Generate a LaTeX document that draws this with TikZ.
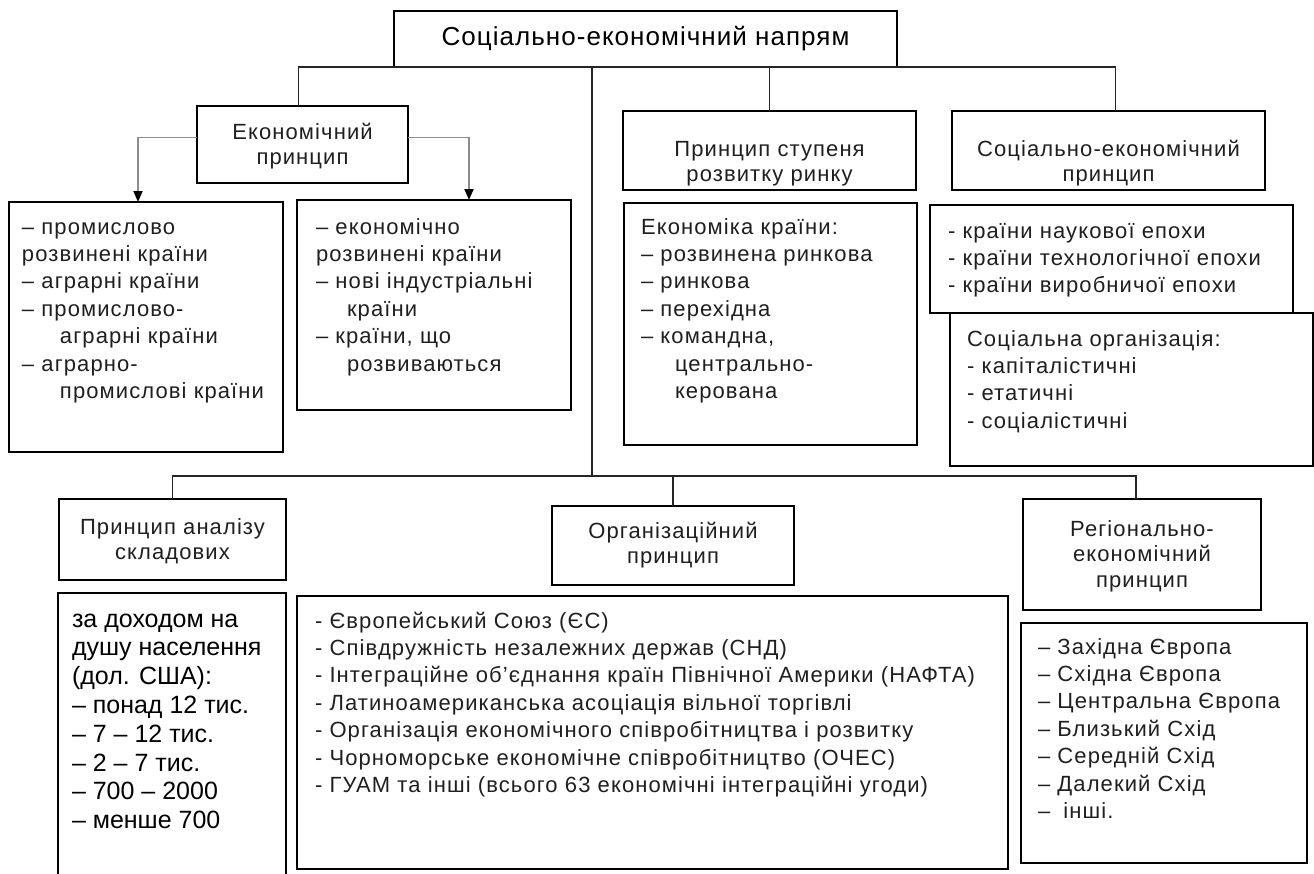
\documentclass[tikz,border=0pt]{standalone}
\usepackage{fontspec}
\setmainfont{Liberation Sans}
\newfontfamily\lsans[LetterSpace=5]{Liberation Sans}
\newfontfamily\tsans[LetterSpace=4]{Liberation Sans}
\usetikzlibrary{arrows.meta}
\newcommand\bodyf{\lsans\fontsize{22}{27.4}\selectfont}
\newcommand\headf{\lsans\fontsize{22}{25.5}\selectfont}
\newcommand\titlef{\tsans\fontsize{26}{30}\selectfont}
\newcommand\incf{\rmfamily\fontsize{25}{28.8}\selectfont}
% left-aligned cell: width, height, left pad, first baseline, font, text
\newcommand\cellL[6]{\parbox[b][#2pt][t]{#1pt}{#5\raggedright\leftskip=#3pt\rule{0pt}{#4pt}#6\par}}
% centred cell: width, height, first baseline, font, text
\newcommand\cellC[5]{\parbox[b][#2pt][t]{#1pt}{#4\centering\rule{0pt}{#3pt}#5\par}}
\begin{document}
\begin{tikzpicture}[x=1pt,y=-1pt,
  cbox/.style={draw=black, line width=1.9pt, inner sep=0pt, outer sep=0pt, anchor=north west, text=black!88},
  conn/.style={draw=black!85, line width=1.8pt},
  arrline/.style={draw=black!45, line width=1.8pt, -{Triangle[length=11pt,width=9pt,color=black]}}]
\path[use as bounding box, fill=white] (0,0) rectangle (1314,873);

% headers
\node[cbox,text=black] (top) at (394,11) {\cellC{503}{56}{34}{\titlef}{Соціально-економічний напрям}};
\node[cbox] (econ) at (197,106) {\cellC{211}{77}{33}{\headf}{Економічний\\принцип}};
\node[cbox] (mh) at (623,111) {\cellC{293}{79}{45}{\headf}{Принцип ступеня\\розвитку ринку}};
\node[cbox] (soch) at (952,111) {\cellC{313}{79}{45}{\headf}{Соціально-економічний\\принцип}};

% upper content boxes
\node[cbox] (b1) at (9,202) {\cellL{274}{250}{13}{32}{\bodyf}{– промислово\\розвинені країни\\– аграрні країни\\– промислово-\\\hspace*{38pt}аграрні країни\\– аграрно-\\\hspace*{38pt}промислові країни}};
\node[cbox] (b2) at (297,200) {\cellL{274}{210}{19}{34}{\bodyf}{– економічно\\розвинені країни\\– нові індустріальні\\\hspace*{31pt}країни\\– країни, що\\\hspace*{31pt}розвиваються}};
\node[cbox] (mc) at (624,203) {\cellL{293}{242}{17}{31}{\bodyf}{Економіка країни:\\– розвинена ринкова\\– ринкова\\– перехідна\\– командна,\\\hspace*{34pt}центрально-\\\hspace*{34pt}керована}};
\node[cbox] (sl) at (930,205) {\cellL{363}{108}{18}{33}{\bodyf}{- країни наукової епохи\\- країни технологічної епохи\\- країни виробничої епохи}};
\node[cbox] (so) at (950,313) {\cellL{363}{153}{17}{33}{\bodyf}{Соціальна організація:\\- капіталістичні\\- етатичні\\- соціалістичні}};

% lower headers
\node[cbox] (ah) at (59,499) {\cellC{227}{81}{35}{\headf}{Принцип аналізу\\складових}};
\node[cbox] (oh) at (552,506) {\cellC{242}{79}{32}{\headf}{Організаційний\\принцип}};
\node[cbox] (rh) at (1023,499) {\cellC{238}{111}{37}{\headf}{Регіонально-\\економічний\\принцип}};

% lower content boxes
\node[cbox,text=black] (inc) at (58,593) {\cellL{228}{284}{14}{34}{\incf}{за доходом на\\душу населення\\(дол. США):\\– понад 12 тис.\\– 7 – 12 тис.\\– 2 – 7 тис.\\– 700 – 2000\\– менше 700}};
\node[cbox] (oc) at (297,596) {\cellL{711}{273}{18}{32}{\bodyf}{- Європейський Союз (ЄС)\\- Співдружність незалежних держав (СНД)\\- Інтеграційне об’єднання країн Північної Америки (НАФТА)\\- Латиноамериканська асоціація вільної торгівлі\\- Організація економічного співробітництва і розвитку\\- Чорноморське економічне співробітництво (ОЧЕС)\\- ГУАМ та інші (всього 63 економічні інтеграційні угоди)}};
\node[cbox] (rc) at (1021,623) {\cellL{286}{240}{17}{31}{\bodyf}{– Західна Європа\\– Східна Європа\\– Центральна Європа\\– Близький Схід\\– Середній Схід\\– Далекий Схід\\– \hspace{6pt}інші.}};

% connectors
\coordinate (hub) at (592,476);
\draw[conn] ([xshift=-4pt]econ.north) |- (top.south) -| ([xshift=7pt]soch.north);
\draw[conn] (top.south -| mh.north) -- (mh.north);
\draw[conn] (top.south -| hub) -- (hub);
\draw[conn] (ah.north) |- (hub) -| ([xshift=-6pt]rh.north);
\draw[conn] (hub -| oh.north) -- (oh.north);
\draw[arrline] ([yshift=7pt]econ.west) -| ([xshift=-8pt]b1.north);
\draw[arrline] ([yshift=7pt]econ.east) -| ([xshift=35pt]b2.north);
\end{tikzpicture}
\end{document}
